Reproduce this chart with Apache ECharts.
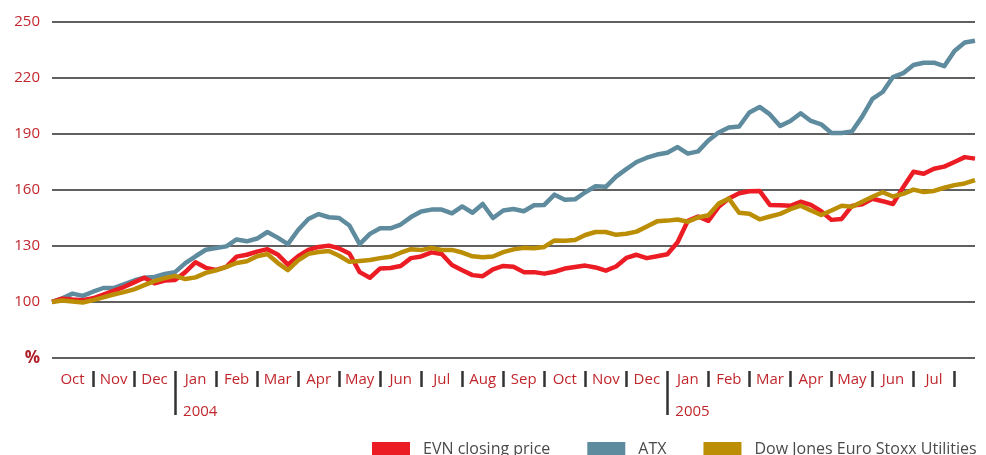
<!DOCTYPE html>
<html><head><meta charset="utf-8">
<script src="https://cdn.jsdelivr.net/npm/echarts@6/dist/echarts.min.js"></script>
<style>html,body{margin:0;padding:0;background:#fff}#c{width:986px;height:455px}</style>
</head><body><div id="c"></div>
<script>
// Months shown on the x axis (Oct 2003 .. Jul 2005); data sampled every quarter month
const monthLabels = ['Oct','Nov','Dec','Jan','Feb','Mar','Apr','May','Jun','Jul','Aug','Sep','Oct','Nov','Dec','Jan','Feb','Mar','Apr','May','Jun','Jul'];
const yearTicks = [3, 15];
const yearLabels = ['2004', '2005'];
const stepMonths = 0.25;
const yTicks = [70, 100, 130, 160, 190, 220, 250];

const atx = [100,102,104.5,103.3,105.5,107.5,107.5,109.5,111.5,113,113.4,115,116,120.8,124.5,128,128.9,129.8,133.5,132.5,
  134,137.5,134.5,131,138.6,144.5,147.1,145.4,145,141,131,136.5,139.5,139.5,141.5,145.5,148.5,149.5,149.5,147.5,
  151.2,147.8,152.5,145,149,149.8,148.6,151.8,152,157.5,154.8,155,158.8,162,161.7,167.2,171.2,175,177.3,179,
  180,183,179.5,180.7,186.5,190.8,193.5,194,201.5,204.5,200.5,194.3,197,201.1,197,195.2,190.5,190.5,191.3,199.3,
  208.8,212.5,220.5,222.6,227,228.2,228.2,226.3,234.5,239,240];

const evn = [100,101.8,101.3,101,102,104,106,108,110.5,113,110,111.5,111.8,116,121.3,118.3,117.2,118.8,124.3,125.3,
  127,128.3,125.5,120,124.5,127.9,129.5,130.2,128.7,126,116,113,118,118.2,119.3,123.5,124.4,126.6,125.7,119.8,
  117,114.4,113.8,117.5,119.3,118.9,116,116,115.2,116.2,117.9,118.7,119.5,118.5,116.8,119,123.6,125.3,123.5,124.5,
  125.6,132,143.5,145.8,143.5,151,155.5,158.3,159.3,159.5,152,151.8,151.5,153.7,152,148.6,144,144.5,151.5,152.3,
  155.3,154,152.5,161.5,169.8,168.7,171.4,172.5,175,177.6,176.8];

const djStoxx = [100,100.8,100.3,99.7,101,102.5,104,105.3,106.8,109,111.2,112.8,114,112.3,113.2,115.6,117,118.8,120.9,121.8,
  124.5,125.7,121,117.1,122.3,125.8,126.8,127.3,124.8,121.5,122,122.5,123.5,124.2,126.4,128.3,127.8,129,127.9,127.9,
  126.5,124.5,124,124.4,126.7,128.2,129,128.8,129.5,133,132.8,133.2,135.9,137.5,137.5,136,136.6,137.7,140.5,143.2,
  143.6,144.2,143,145.3,146.5,152.7,155.4,147.8,147.3,144.3,145.8,147.2,149.7,151.6,149,146.6,149,151.6,151,153.7,
  156.4,158.8,156.5,157.9,160.2,158.9,159.5,161.2,162.6,163.5,165.3];

const seriesNames = ['EVN closing price', 'ATX', 'Dow Jones Euro Stoxx Utilities'];
const colors = { evn: '#ec1c24', atx: '#5f8b9e', dj: '#bb8e06' };

const toPairs = arr => arr.map((v, i) => [i * stepMonths, v]);
const xMax = (atx.length - 1) * stepMonths;
const monthCenters = monthLabels.map((_, i) => i + 0.5);
const monthTicks = monthLabels.map((_, i) => i + 1).filter(v => yearTicks.indexOf(v) < 0);

const FONT = '"Open Sans", "Noto Sans", sans-serif';
const RED_TXT = '#c0272d';

const chart = echarts.init(document.getElementById('c'), null, { renderer: 'canvas' });
const baseX = { type: 'value', position: 'bottom', min: 0, max: xMax, gridIndex: 0,
  splitLine: { show: false }, axisLine: { show: false } };

chart.setOption({
  animation: false,
  backgroundColor: '#fff',
  grid: { left: 52, right: 11, top: 22, bottom: 97, containLabel: false, outerBoundsMode: 'none' },
  legend: {
    left: 372, top: 441, padding: 0, itemWidth: 38, itemHeight: 14, itemGap: 37,
    icon: 'rect',
    textStyle: { fontFamily: FONT, fontSize: 16, color: '#4a4a4a', padding: [0, 0, 0, 8] },
    data: seriesNames
  },
  xAxis: [
    Object.assign({}, baseX, {
      axisTick: { show: false },
      axisLabel: { customValues: monthCenters, formatter: v => monthLabels[Math.floor(v)],
        color: RED_TXT, fontFamily: FONT, fontSize: 15, margin: 14 }
    }),
    Object.assign({}, baseX, {
      offset: 13,
      axisTick: { show: true, customValues: monthTicks, length: 16, lineStyle: { color: '#333', width: 2.5 } },
      axisLabel: { show: false }
    }),
    Object.assign({}, baseX, {
      offset: 13,
      axisTick: { show: true, customValues: yearTicks, length: 44, lineStyle: { color: '#333', width: 2.5 } },
      axisLabel: { customValues: yearTicks, formatter: v => yearLabels[yearTicks.indexOf(v)],
        align: 'left', padding: [0, 0, 0, 8], margin: 33,
        color: RED_TXT, fontFamily: FONT, fontSize: 15 }
    })
  ],
  yAxis: {
    type: 'value', min: yTicks[0], max: yTicks[yTicks.length - 1], interval: 30,
    axisLine: { show: false }, axisTick: { show: false },
    splitLine: { show: true, lineStyle: { color: '#2b2b2b', width: 1.5 } },
    axisLabel: {
      margin: 12, fontFamily: FONT, fontSize: 15, color: RED_TXT,
      formatter: v => v === yTicks[0] ? '{p|%}' : String(v),
      rich: { p: { fontFamily: FONT, fontSize: 17, fontWeight: 'bold', color: '#b0202a' } }
    }
  },
  series: [
    { name: seriesNames[1], type: 'line', data: toPairs(atx), showSymbol: false, z: 2,
      itemStyle: { color: colors.atx }, lineStyle: { color: colors.atx, width: 4.5, join: 'round' } },
    { name: seriesNames[0], type: 'line', data: toPairs(evn), showSymbol: false, z: 3,
      itemStyle: { color: colors.evn }, lineStyle: { color: colors.evn, width: 4.5, join: 'round' } },
    { name: seriesNames[2], type: 'line', data: toPairs(djStoxx), showSymbol: false, z: 4,
      itemStyle: { color: colors.dj }, lineStyle: { color: colors.dj, width: 4.5, join: 'round' } }
  ]
});
</script>
</body></html>
